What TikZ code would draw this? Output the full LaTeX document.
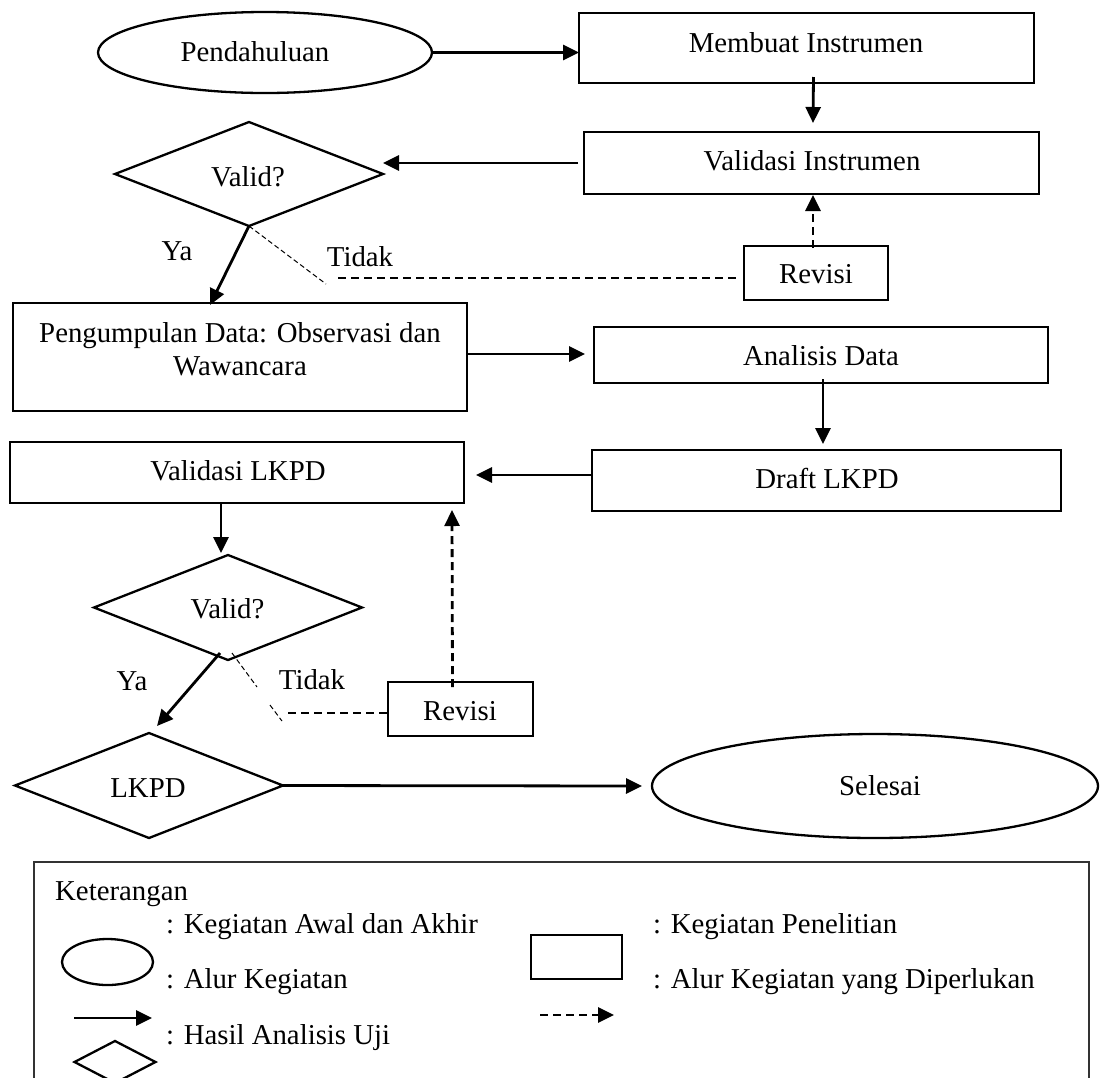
\documentclass[tikz,border=0pt]{standalone}
\usepackage{fontspec}
\setmainfont{Liberation Serif}
\usetikzlibrary{shapes.geometric,arrows.meta,calc}
\begin{document}
\begin{tikzpicture}[x=1pt,y=-1pt,
  shp/.style={draw, line width=2.3pt, inner sep=0pt, outer sep=0pt},
  rbox/.style={shp, rectangle},
  oval/.style={shp, ellipse},
  dia/.style={shp, diamond},
  txt/.style={anchor=base, inner sep=0pt, font=\fontsize{28.8}{33}\selectfont},
  ltxt/.style={txt, anchor=base west},
  flow/.style={line width=2.8pt, -{Triangle[length=16pt,width=15pt]}},
  dflow/.style={flow, dash pattern=on 8pt off 5pt},
  dline/.style={line width=2.2pt, dash pattern=on 8pt off 5pt},
  fine/.style={line width=1pt, dash pattern=on 5pt off 3pt},
  legbox/.style={draw=black!80, line width=1.4pt}]
\useasboundingbox (0,0) rectangle (1100,1077);
\fill[white] (0,0) rectangle (1100,1077);
\clip (0,0) rectangle (1100,1077);

% shapes
\node[oval, minimum width=334pt, minimum height=81pt] (pend) at (265,52.5) {};
\node[rbox, minimum width=455pt, minimum height=70pt] (memb) at (806.5,48) {};
\node[rbox, minimum width=455pt, minimum height=62pt] (valinst) at (811.5,163) {};
\node[dia, minimum width=268pt, minimum height=104pt] (valid1) at (249,174) {};
\node[rbox, minimum width=144pt, minimum height=54pt] (rev1) at (816,273) {};
\node[rbox, minimum width=454pt, minimum height=108pt] (peng) at (240,357) {};
\node[rbox, minimum width=454pt, minimum height=56pt] (anal) at (821,355) {};
\node[rbox, minimum width=469pt, minimum height=61pt] (draft) at (826.5,480.5) {};
\node[rbox, minimum width=454pt, minimum height=61pt] (vallkpd) at (237,472.5) {};
\node[dia, minimum width=268pt, minimum height=105pt] (valid2) at (228,607.5) {};
\node[rbox, minimum width=145pt, minimum height=54pt] (rev2) at (460.5,709) {};
\node[dia, minimum width=268pt, minimum height=105pt] (lkpd) at (149,785.5) {};
\node[oval, minimum width=446pt, minimum height=104pt] (sel) at (875,786) {};

% texts
\node[txt] (tpend) at (255,61) {Pendahuluan};
\node[txt] (tmemb) at (806,52) {Membuat Instrumen};
\node[txt] (tvalinst) at (812,170) {Validasi Instrumen};
\node[txt] (tvalid1) at (248,186) {Valid?};
\node[txt] (tya1) at (177,260) {Ya};
\node[txt] (ttidak1) at (360,266) {Tidak};
\node[txt] (trev1) at (816,283) {Revisi};
\node[txt] (tpeng1) at (240,342) {Pengumpulan Data: Observasi dan};
\node[txt] (tpeng2) at (240,375) {Wawancara};
\node[txt] (tanal) at (821,365) {Analisis Data};
\node[txt] (tdraft) at (827,488) {Draft LKPD};
\node[txt] (tvallkpd) at (238,480) {Validasi LKPD};
\node[txt] (tvalid2) at (227.5,618) {Valid?};
\node[txt] (tya2) at (132,690) {Ya};
\node[txt] (ttidak2) at (312,689) {Tidak};
\node[txt] (trev2) at (460,720) {Revisi};
\node[txt] (tlkpd) at (148,797) {LKPD};
\node[txt] (tsel) at (880,795) {Selesai};

% connectors
\draw[flow] (pend.east) -- (pend.east -| memb.west);
\draw[flow] ($(memb.south)+(7,-6)$) -- ($(valinst.north)+(1.5,-9)$);
\draw[flow] ($(valinst.west)+(-6,0)$) -- (valinst.west -| valid1.east);
\draw[flow] (valid1.south) -- ($(peng.north west)+(197,2)$);
\coordinate (k1) at (326,284);
\draw[fine] (valid1.south) -- (k1);
\coordinate (k2) at (338,278);
\draw[dline] (k2) -- ($(k2 -| rev1.west)+(-8,0)$);
\draw[dflow] ($(rev1.north)+(-3,2)$) -- ($(valinst.south)+(1.5,1)$);
\draw[flow] ($(peng.east)+(0,-3)$) -- ($(anal.west)+(-9,-1)$);
\draw[flow] ($(anal.south)+(2,-4)$) -- ($(draft.north)+(-3.5,-6)$);
\draw[flow] ($(draft.west)+(0,-5.5)$) -- ($(vallkpd.east)+(12,2.5)$);
\draw[flow] ($(vallkpd.south)+(-16,0)$) -- ($(valid2.north)+(-7,-2)$);
\draw[dflow] ($(rev2.north)+(-8,5)$) -- ($(vallkpd.south)+(215,7)$);
\draw[flow] ($(valid2.south)+(-8,-7)$) -- ($(lkpd.north)+(8,-7)$);
\coordinate (k3) at (257,687);
\coordinate (k4) at (270,705);
\coordinate (k5) at (282,721);
\draw[fine] ($(valid2.south)+(4,-7)$) -- (k3);
\draw[fine] (k4) -- (k5);
\coordinate (k6) at (288,713);
\draw[dline] (k6) -- (k6 -| rev2.west);
\draw[flow] (lkpd.east) -- ($(sel.west)+(-10,0)$);

% legend
\draw[legbox] (34,862) rectangle (1089,1100);
\node[ltxt] (lket) at (55,900) {Keterangan};
\node[ltxt] (l1) at (166,933) {: Kegiatan Awal dan Akhir};
\node[ltxt] (l2) at (166,988) {: Alur Kegiatan};
\node[ltxt] (l3) at (166,1044) {: Hasil Analisis Uji};
\node[ltxt] (l4) at (653,933) {: Kegiatan Penelitian};
\node[ltxt] (l5) at (653,988) {: Alur Kegiatan yang Diperlukan};
\node[oval, minimum width=91pt, minimum height=46pt] (lgell) at (107.5,962) {};
\node[rbox, minimum width=91pt, minimum height=44pt] (lgrect) at (576.5,957) {};
\node[dia, minimum width=81pt, minimum height=42pt] (lgdia) at (115,1062) {};
\coordinate (la1) at (74,1018);
\coordinate (la2) at (152,1018);
\draw[flow] (la1) -- (la2);
\coordinate (lb1) at (540,1015);
\coordinate (lb2) at (614,1015);
\draw[dflow] (lb1) -- (lb2);
\end{tikzpicture}
\end{document}
